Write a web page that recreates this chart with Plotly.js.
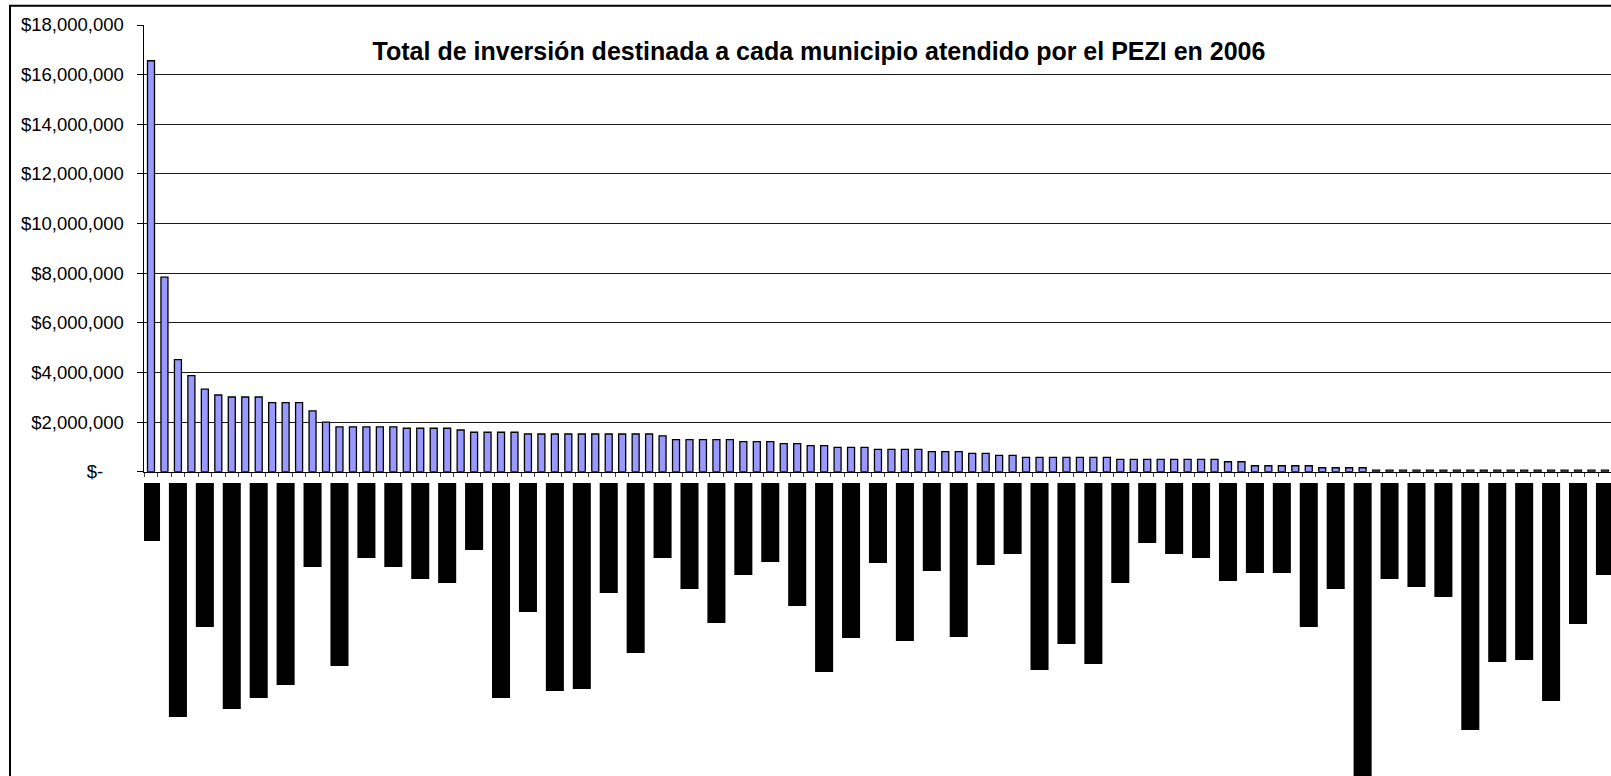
<!DOCTYPE html>
<html>
<head>
<meta charset="utf-8">
<script src="https://cdn.plot.ly/plotly-3.0.1.min.js"></script>
<style>
  html, body { margin: 0; padding: 0; background: #ffffff; overflow: hidden; }
  #chart { width: 1611px; height: 776px; }
</style>
</head>
<body>
<div id="chart"></div>
<script>
// Investment per municipality (USD), sorted descending; municipality names are illegible (shown as black blocks)
const inversion = [
  16560000, 7840000, 4520000, 3870000, 3330000, 3090000, 3010000, 3010000, 3010000, 2780000,
  2780000, 2780000, 2450000, 2000000, 1810000, 1810000, 1810000, 1810000, 1810000, 1750000,
  1750000, 1750000, 1750000, 1680000, 1590000, 1590000, 1590000, 1590000, 1520000, 1520000,
  1520000, 1520000, 1520000, 1520000, 1520000, 1520000, 1520000, 1520000, 1440000, 1290000,
  1290000, 1290000, 1290000, 1290000, 1210000, 1210000, 1210000, 1130000, 1130000, 1050000,
  1050000, 980000, 980000, 980000, 900000, 900000, 900000, 900000, 810000, 810000,
  810000, 740000, 740000, 660000, 660000, 580000, 580000, 580000, 580000, 580000,
  580000, 580000, 500000, 500000, 500000, 500000, 500000, 500000, 500000, 500000,
  400000, 400000, 240000, 240000, 240000, 240000, 240000, 160000, 160000, 160000,
  160000, 60000, 60000, 60000, 60000, 60000, 60000, 60000, 60000, 60000,
  60000, 60000, 60000, 60000, 60000, 60000, 60000, 60000, 60000
];

// Redacted (blacked-out) category labels: length of each shown label, every second municipality
const etiquetaLargo = [
  58, 234, 144, 226, 215, 202, 84, 183, 75, 84,
  96, 100, 67, 215, 129, 208, 206, 110, 170, 75,
  106, 140, 92, 79, 123, 189, 155, 80, 158, 88,
  154, 82, 71, 187, 161, 181, 100, 60, 71, 75,
  98, 90, 90, 144, 106, 300, 96, 104, 114, 247,
  179, 177, 218, 141, 92
];

const yTicks = [0, 2000000, 4000000, 6000000, 8000000, 10000000, 12000000, 14000000, 16000000, 18000000];
const yTickText = ['$-\u00a0\u00a0\u00a0\u00a0', '$2,000,000', '$4,000,000', '$6,000,000', '$8,000,000',
  '$10,000,000', '$12,000,000', '$14,000,000', '$16,000,000', '$18,000,000'];

const titulo = 'Total de inversión destinada a cada municipio atendido por el PEZI en 2006';

const municipios = inversion.map((v, i) => i);
const labelPos = etiquetaLargo.map((v, i) => i * 2);
const labelNeg = etiquetaLargo.map(v => -v);
const boundaries = [];
for (let i = -0.5; i <= inversion.length + 0.5; i += 1) boundaries.push(i);

const W = 1611, H = 776, ML = 144, MT = 25, MB = 0, MR = 0;
const plotH = H - MT - MB, plotW = W - ML - MR;
const zeroY = 471.7, labelTop = 483;
const upperBottom = (H - MB - zeroY) / plotH;
const lowerTop = (H - MB - labelTop) / plotH;

const traces = [
  {
    type: 'bar', x: municipios, y: inversion, xaxis: 'x', yaxis: 'y',
    width: 0.52,
    marker: { color: '#9999FF', line: { color: '#000000', width: 1.3 } },
    hoverinfo: 'skip'
  },
  {
    type: 'bar', x: labelPos, y: labelNeg, xaxis: 'x', yaxis: 'y2',
    width: 1.34,
    marker: { color: '#000000', line: { width: 0 } },
    hoverinfo: 'skip'
  }
];

const layout = {
  width: W, height: H,
  margin: { l: ML, r: MR, t: MT, b: MB, pad: 0 },
  paper_bgcolor: '#ffffff', plot_bgcolor: 'rgba(0,0,0,0)',
  showlegend: false,
  barmode: 'overlay',
  font: { family: '"Liberation Sans", Arial, sans-serif', color: '#000000' },
  title: {
    text: '<b>' + titulo + '</b>',
    font: { family: '"Liberation Sans", Arial, sans-serif', size: 25, color: '#000000' },
    xref: 'paper', x: (819 - ML) / plotW, xanchor: 'center',
    yref: 'container', y: 1 - 51 / H, yanchor: 'middle'
  },
  xaxis: {
    domain: [0, 1], anchor: 'y',
    range: [-0.52, 108.45],
    showgrid: false, zeroline: false,
    showline: true, linecolor: '#000000', linewidth: 1,
    ticks: 'outside', ticklen: 4, tickcolor: '#444444', tickwidth: 1,
    tickmode: 'array', tickvals: boundaries, ticktext: boundaries.map(() => ''),
    showticklabels: false, fixedrange: true
  },
  yaxis: {
    domain: [upperBottom, 1], anchor: 'x',
    range: [0, 18000000],
    tickmode: 'array', tickvals: yTicks, ticktext: yTickText,
    showgrid: true, gridcolor: '#1a1a1a', gridwidth: 1,
    zeroline: false,
    showline: true, linecolor: '#000000', linewidth: 1.5,
    ticks: 'outside', ticklen: 6, tickcolor: '#000000', tickwidth: 1,
    ticklabelstandoff: 9,
    tickfont: { family: '"Liberation Sans", Arial, sans-serif', size: 18.5, color: '#000000' },
    fixedrange: true
  },
  yaxis2: {
    domain: [0, lowerTop], anchor: 'x',
    range: [-(H - MB - labelTop) * 1, 0],
    visible: false, showgrid: false, zeroline: false, fixedrange: true
  },
  shapes: [
    {
      type: 'rect', xref: 'paper', yref: 'paper',
      x0: (10 - ML) / plotW, x1: 1.2,
      y0: -0.2, y1: 1 + (MT - 5.7) / plotH,
      line: { color: '#000000', width: 2 }, fillcolor: 'rgba(0,0,0,0)', layer: 'above'
    }
  ]
};

Plotly.newPlot('chart', traces, layout, { staticPlot: true, displayModeBar: false });
</script>
</body>
</html>
